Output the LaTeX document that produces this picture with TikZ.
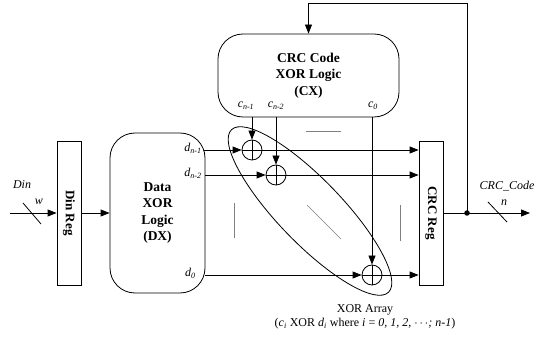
\documentclass[tikz,border=0pt]{standalone}
\usepackage{fontspec}
\setmainfont{Liberation Serif}
\usetikzlibrary{arrows.meta}
\begin{document}
\begin{tikzpicture}[x=1pt,y=-1pt,line width=0.8pt,
  arr/.style={-{Triangle[length=9pt,width=7pt]}},
  regbox/.style={draw,rectangle,inner sep=0pt,minimum width=24pt,minimum height=144pt},
  regtext/.style={rotate=-90,font=\bfseries\fontsize{13}{15}\selectfont},
  logicbox/.style={draw,rectangle,rounded corners=25pt,inner sep=0pt,align=center,font=\bfseries\fontsize{13.5}{16.5}\selectfont},
  xorc/.style={draw,circle,inner sep=0pt,minimum size=20pt},
  lbl/.style={font=\fontsize{12}{14}\selectfont,inner sep=0pt},
  ilbl/.style={font=\itshape\fontsize{12}{14}\selectfont,inner sep=0pt},
  hint/.style={line width=0.5pt,gray},
  dot/.style={circle,fill,inner sep=0pt,minimum size=5.5pt}
]
\useasboundingbox (0,0) rectangle (544,339);

% blocks
\node[regbox] (dinreg) at (69,213) {};
\node[regtext] at (dinreg) {Din Reg};
\node[logicbox,minimum width=95pt,minimum height=160pt] (dx) at (157.5,213) {Data\\XOR\\Logic\\(DX)};
\node[logicbox,minimum width=181pt,minimum height=83pt] (cx) at (308.5,75.5) {CRC Code\\XOR Logic\\(CX)};
\node[regbox] (crcreg) at (431,213) {};
\node[regtext] at (crcreg) {CRC Reg};

% xor gates
\node[xorc] (x1) at (252,150) {};
\node[xorc] (x2) at (276,175) {};
\node[xorc] (x0) at (372,275) {};
\foreach \g in {x1,x2,x0} {\draw (\g.north) -- (\g.south) (\g.west) -- (\g.east);}

% input
\coordinate (din) at (10,213);
\draw[arr] (din) -- (dinreg.west);
\draw (23,203) -- (41,224);
\node[ilbl] (dinlbl) at (22,185) {Din};
\node[ilbl] (wlbl) at (39,202) {w};
\draw[arr] (dinreg.east) -- (dx.west);

% data lines
\coordinate (dn1) at (204,150);
\coordinate (dn2) at (205,175);
\coordinate (dz) at (205,275);
\draw[arr] (dn1) -- (x1.west);
\draw[arr] (dn2) -- (x2.west);
\draw[arr] (dz) -- (x0.west);
\draw[arr] (x1.east) -- (crcreg.west |- x1);
\draw[arr] (x2.east) -- (crcreg.west |- x2);
\draw[arr] (x0.east) -- (crcreg.west |- x0);

% crc lines
\draw[arr] (cx.south -| x1) -- (x1.north);
\draw[arr] (cx.south -| x2) -- (x2.north);
\draw[arr] (cx.south -| x0) -- (x0.north);

% labels
\node[lbl,anchor=east] (ld1) at (202,148) {\textit{d}\textsubscript{\textit{n-1}}};
\node[lbl,anchor=east] (ld2) at (202,173) {\textit{d}\textsubscript{\textit{n-2}}};
\node[lbl,anchor=east] (ld0) at (196,273) {\textit{d}\textsubscript{\textit{0}}};
\node[lbl] (lc1) at (246,106) {\textit{c}\textsubscript{\textit{n-1}}};
\node[lbl] (lc2) at (276,106) {\textit{c}\textsubscript{\textit{n-2}}};
\node[lbl] (lc0) at (373,106) {\textit{c}\textsubscript{\textit{0}}};

% ellipsis hints
\draw[hint] (306,131) -- (341,131);
\draw[hint] (234,203) -- (234,238);
\draw[hint] (307,205) -- (341,239);
\draw[hint] (400,205) -- (400,241);

% xor array ellipse
\draw[rotate around={-46:(310,211)}] (310,211) ellipse [x radius=113pt, y radius=32pt];
\node[lbl,align=center,font=\fontsize{12}{14.5}\selectfont] (arr) at (365,317) {XOR Array\\(\textit{c}\textsubscript{\textit{i}} XOR \textit{d}\textsubscript{\textit{i}} where \textit{i} = \textit{0, 1, 2, }$\cdots$\textit{; n-1})};

% output
\node[dot] (tap) at (467,213) {};
\coordinate (out) at (530,213);
\draw[arr] (crcreg.east) -- (out);
\draw (488,202) -- (507,222);
\node[ilbl] (crclbl) at (507,186) {CRC\_Code};
\node[ilbl] (nlbl) at (504,203) {n};

% feedback
\coordinate (fb) at (467,3);
\draw[arr] (tap.center) -- (fb) -| (cx.north);
\end{tikzpicture}
\end{document}
